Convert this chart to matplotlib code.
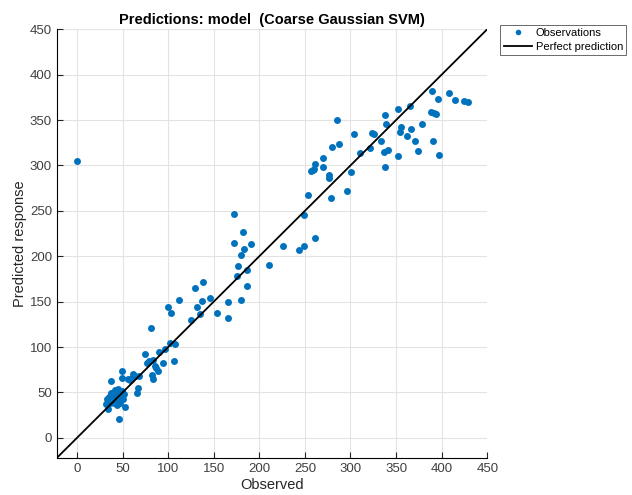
import numpy as np
import matplotlib.pyplot as plt

plt.rcParams['font.family'] = ['Liberation Sans', 'DejaVu Sans']

# observed vs predicted values
observed = [0,
    32.6, 35.5, 37.3, 37.7, 41.7, 45.4, 49.0, 51.9, 43.6, 40.6, 47.2, 50.2, 45.8,
    40.9, 36.2, 31.8, 34.4, 43.6, 47.2, 52.7, 46.4, 49.0, 49.0, 56.3, 58.2, 60.0,
    63.7, 68.4, 61.8, 66.2, 67.3, 74.6, 76.5, 79.4, 83.0, 85.6, 86.3, 88.9, 82.7,
    83.8, 94.0, 89.6, 97.0, 102.0, 107.9, 106.5, 80.9, 100.2, 103.5, 112.3, 124.8,
    131.4, 137.2, 135.0, 146.3, 153.5, 165.4, 166.1, 179.7, 138.3, 129.9, 176.4,
    186.6, 176.0, 186.6, 172.3, 182.6, 172.7, 190.6, 183.3, 180.0, 210.4, 226.5,
    243.0, 249.0, 261.0, 249.0, 253.6, 256.5, 258.7, 260.5, 261.0, 269.7, 269.3,
    276.3, 276.6, 279.0, 280.0, 287.6, 285.0, 296.7, 301.0, 303.7, 310.6, 320.9,
    323.5, 326.0, 333.7, 336.2, 340.6, 337.7, 337.3, 339.2, 352.0, 352.0, 355.0,
    354.6, 361.9, 365.5, 366.6, 370.3, 373.6, 378.4, 389.7, 396.0, 388.6, 391.5,
    393.7, 390.0, 397.4, 408.0, 414.6, 425.0, 428.9]
predicted = [305,
    43.2, 45.4, 49.8, 63.0, 52.8, 53.5, 52.0, 48.4, 48.4, 43.7, 45.4, 42.6, 39.9,
    38.8, 38.1, 37.4, 31.6, 36.3, 38.1, 34.4, 21.2, 74.0, 65.6, 65.2, 63.8, 66.0,
    68.2, 68.5, 70.4, 49.8, 54.6, 92.0, 82.9, 85.0, 85.8, 79.2, 76.7, 74.0, 69.3,
    64.9, 82.2, 94.6, 97.6, 104.2, 103.4, 85.0, 121.0, 143.8, 137.9, 151.8, 129.5,
    144.5, 150.5, 136.4, 153.7, 137.2, 131.7, 149.6, 151.8, 172.0, 165.3, 188.9,
    184.4, 177.9, 167.6, 246.8, 226.6, 214.9, 213.4, 207.6, 201.7, 190.3, 211.2,
    206.5, 211.5, 219.7, 245.7, 267.3, 293.7, 294.8, 296.3, 301.8, 308.0, 298.5,
    290.0, 285.7, 264.0, 320.0, 323.8, 350.0, 271.4, 292.3, 335.0, 313.9, 319.0,
    335.5, 334.8, 327.0, 314.6, 316.8, 297.8, 356.0, 345.4, 362.6, 310.0, 342.5,
    336.3, 332.2, 365.2, 340.3, 327.0, 316.0, 345.4, 382.0, 373.3, 359.0, 358.0,
    356.5, 326.7, 311.3, 379.9, 371.5, 370.4, 369.3]

ticks = np.arange(0, 451, 50)
lims = [-22, 450]

fig = plt.figure(figsize=(6.32, 4.95), dpi=100)
ax = fig.add_axes([0.090, 0.075, 0.681, 0.866])

ax.plot(observed, predicted, 'o', color='#0072BD', markersize=5,
        markeredgewidth=0, label='Observations', zorder=3)
ax.plot(lims, lims, color='black', linewidth=1.3, label='Perfect prediction', zorder=4)

ax.set_xlim(lims)
ax.set_ylim(lims)
ax.set_xticks(ticks)
ax.set_yticks(ticks)
ax.grid(True, color='#e3e3e3', linewidth=0.8)
ax.set_axisbelow(True)

ax.spines['top'].set_visible(False)
ax.spines['right'].set_visible(False)
ax.tick_params(direction='in', length=4, labelsize=9.5, colors='#262626')
for lab in ax.get_xticklabels() + ax.get_yticklabels():
    lab.set_color('#404040')

ax.set_xlabel('Observed', fontsize=10.5, color='#262626', labelpad=2)
ax.set_ylabel('Predicted response', fontsize=10.5, color='#262626', labelpad=2)
ax.set_title('Predictions: model  (Coarse Gaussian SVM)', fontsize=10.5,
             fontweight='bold', pad=4)

leg = ax.legend(loc='upper left', bbox_to_anchor=(1.03, 1.01), fontsize=8,
                frameon=True, fancybox=False, edgecolor='#262626',
                handlelength=2.6, borderpad=0.3, labelspacing=0.3,
                handletextpad=0.3, borderaxespad=0, markerscale=0.8)
leg.get_frame().set_linewidth(0.6)

fig.savefig('out.png', dpi=100)
